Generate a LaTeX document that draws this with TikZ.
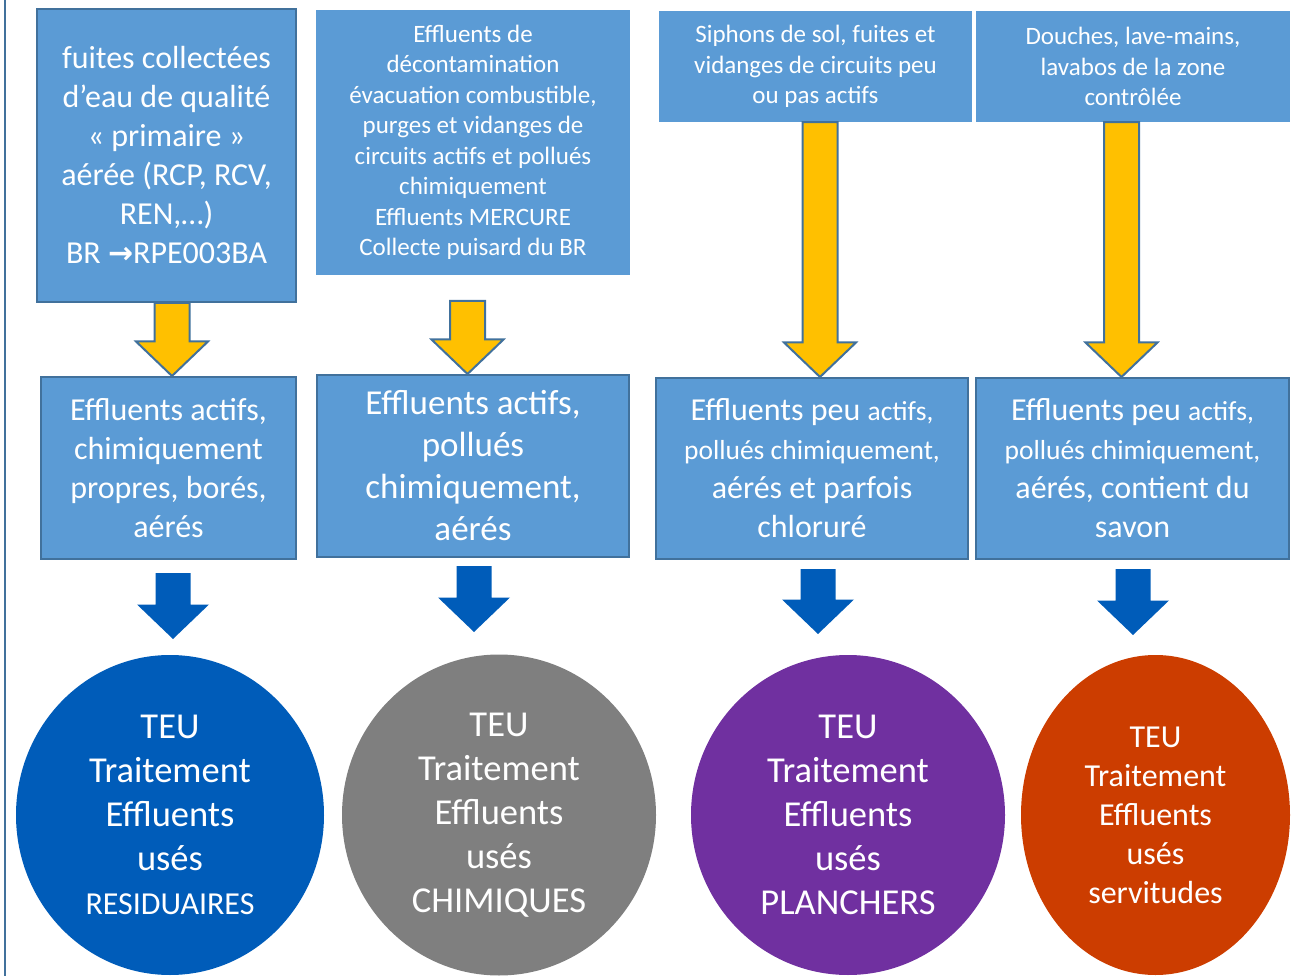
\documentclass[tikz,border=0pt]{standalone}
\usepackage{fontspec}
\setmainfont{Carlito}
\newfontfamily\fleches{DejaVu Sans}
\usetikzlibrary{shapes.geometric,calc}

\definecolor{bleuboite}{HTML}{5B9BD5}
\definecolor{bordure}{HTML}{41719C}
\definecolor{jaunef}{HTML}{FFC000}
\definecolor{bleuf}{RGB}{0,92,185}
\definecolor{grisf}{HTML}{7F7F7F}
\definecolor{violetf}{HTML}{7030A0}
\definecolor{orangef}{RGB}{204,61,0}

% grosse fleche verticale : style, depart, pointe
\newcommand{\flecheBloc}[3]{%
  \path[#1] ($(#2)+(-17.5,0)$) -- ($(#3)+(-17.5,-34.5)$) -- ($(#3)+(-36,-34.5)$)
    -- (#3) -- ($(#3)+(36,-34.5)$) -- ($(#3)+(17.5,-34.5)$) -- ($(#2)+(17.5,0)$) -- cycle;}

\begin{document}
\begin{tikzpicture}[x=1pt, y=-1pt,
    boite/.style={rectangle, fill=bleuboite, text=white, align=center, inner sep=0pt},
    bord/.style={draw=bordure, line width=2pt},
    teu/.style={ellipse, text=white, align=center, inner sep=0pt},
    jaune/.style={fill=jaunef, draw=bordure, line width=2pt},
    bleue/.style={fill=bleuf}]
    \useasboundingbox (0,0) rectangle (1294,976);
    \draw[bordure, line width=2pt] (5,0) -- (5,976);

    % origines
    \node[boite, bord, minimum width=259pt, minimum height=293pt, font=\fontsize{32}{39}\selectfont] (fuites) at (166.5,155.5)
        {fuites collectées\\ d’eau de qualité\\ « primaire »\\ aérée (RCP, RCV,\\ REN,…)\\ BR {\fleches\bfseries\fontsize{30}{39}\selectfont →}RPE003BA};
    \node[boite, minimum width=314pt, minimum height=265pt, font=\fontsize{25}{30.5}\selectfont] (decont) at (473,142.5)
        {Effluents de\\ décontamination\\ évacuation combustible,\\ purges et vidanges de\\ circuits actifs et pollués\\ chimiquement\\ Effluents MERCURE\\ Collecte puisard du BR};
    \node[boite, minimum width=313pt, minimum height=111pt, font=\fontsize{25}{30.5}\selectfont] (siphons) at (815.5,66.5)
        {Siphons de sol, fuites et\\ vidanges de circuits peu\\ ou pas actifs};
    \node[boite, minimum width=314pt, minimum height=111pt, font=\fontsize{25}{30.5}\selectfont] (douches) at (1133,66.5)
        {Douches, lave-mains,\\ lavabos de la zone\\ contrôlée};

    % natures des effluents
    \node[boite, bord, minimum width=255pt, minimum height=182pt, font=\fontsize{32}{39}\selectfont] (actifsA) at (168.5,468)
        {Effluents actifs,\\ chimiquement\\ propres, borés,\\ aérés};
    \node[boite, bord, minimum width=312pt, minimum height=182pt, font=\fontsize{35}{42}\selectfont] (actifsB) at (473,466)
        {Effluents actifs,\\ pollués\\ chimiquement,\\ aérés};
    \node[boite, bord, minimum width=312pt, minimum height=181pt, font=\fontsize{32}{39}\selectfont] (peuA) at (812,468.5)
        {Effluents peu {\fontsize{27.5}{39}\selectfont actifs,}\\ {\fontsize{27.5}{39}\selectfont pollués chimiquement,}\\ aérés et parfois\\ chloruré};
    \node[boite, bord, minimum width=313pt, minimum height=181pt, font=\fontsize{32}{39}\selectfont] (peuB) at (1132.5,468.5)
        {Effluents peu {\fontsize{27.5}{39}\selectfont actifs,}\\ {\fontsize{27.5}{39}\selectfont pollués chimiquement,}\\ aérés, contient du\\ savon};

    % traitements
    \node[teu, fill=bleuf, minimum width=308pt, minimum height=320pt, font=\fontsize{36.5}{44}\selectfont] (res) at (170,815)
        {TEU\\ Traitement\\ Effluents\\ usés\\ {\fontsize{32}{41}\selectfont RESIDUAIRES}};
    \node[teu, fill=grisf, minimum width=314pt, minimum height=321pt, font=\fontsize{36.5}{44}\selectfont] (chim) at (499,815)
        {TEU\\ Traitement\\ Effluents\\ usés\\ CHIMIQUES};
    \node[teu, fill=violetf, minimum width=314pt, minimum height=320pt, font=\fontsize{36.5}{44}\selectfont] (planch) at (848,815)
        {TEU\\ Traitement\\ Effluents\\ usés\\ PLANCHERS};
    \node[teu, fill=orangef, minimum width=269pt, minimum height=320pt, font=\fontsize{32}{39}\selectfont] (serv) at (1155.5,815)
        {TEU\\ Traitement\\ Effluents\\ usés\\ servitudes};

    % fleches jaunes
    \coordinate (j2) at (467.5,301);
    \flecheBloc{jaune}{fuites.south -| 172,0}{actifsA.north -| 172,0}
    \flecheBloc{jaune}{j2}{actifsB.north -| j2}
    \flecheBloc{jaune}{siphons.south -| 820,0}{peuA.north -| 820,0}
    \flecheBloc{jaune}{douches.south -| 1121.5,0}{peuB.north -| 1121.5,0}

    % fleches bleues
    \coordinate (b1) at (173,573);  \coordinate (p1) at (173,639);
    \coordinate (b2) at (474,566);  \coordinate (p2) at (474,632);
    \coordinate (b3) at (818,569);  \coordinate (p3) at (818,634);
    \coordinate (b4) at (1133,569); \coordinate (p4) at (1133,635);
    \foreach \i in {1,...,4}
        {\flecheBloc{bleue}{b\i}{p\i}}
\end{tikzpicture}
\end{document}
